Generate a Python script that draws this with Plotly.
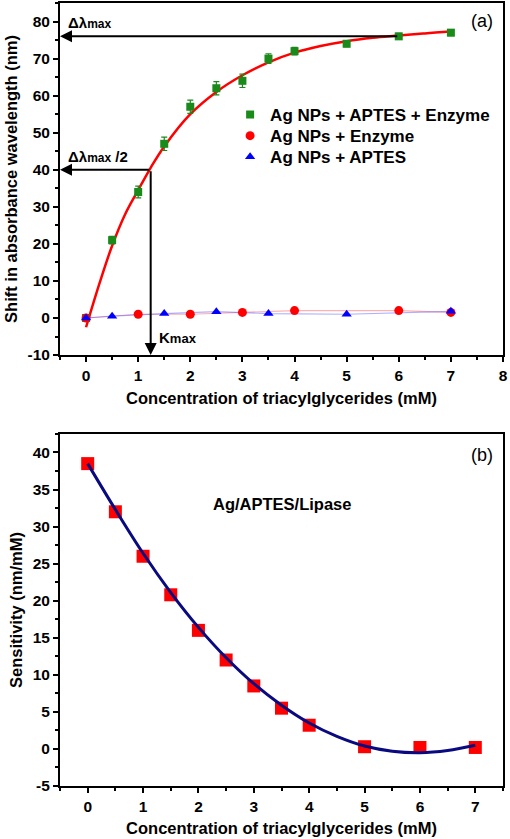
import plotly.graph_objects as go

# ---- data panel (a)
conc_a = [0, 0.5, 1, 1.5, 2, 2.5, 3, 3.5, 4, 5, 6, 7]
shift_enzyme_aptes = [0, 21, 34, 47, 57, 62, 64, 70, 72, 74, 76, 77]
err_enzyme_aptes = [0.8, 1.0, 1.6, 1.8, 1.8, 1.8, 1.8, 1.3, 1.0, 0.8, 0.8, 0.8]

conc_enzyme = [0, 1, 2, 3, 4, 6, 7]
shift_enzyme = [0, 1, 1, 1.5, 2, 2, 1.5]

conc_aptes = [0, 0.5, 1.5, 2.5, 3.5, 5, 7]
shift_aptes = [0, 0.5, 1.2, 1.7, 1.2, 1.0, 1.8]

fit_x_a = [0, 0.25, 0.5, 0.75, 1, 1.25, 1.5, 2, 2.5, 3, 3.5, 4, 4.5, 5, 5.5, 6, 6.5, 7]
fit_y_a = [-2.5, 9, 19.5, 28, 34.5, 40.8, 46.3, 55, 61, 65.5, 69, 71.6, 73.4, 74.7, 75.6, 76.2, 76.8, 77.3]

delta_max = 76
delta_half = 40
k_max = 1.24
delta_max_x = 6

y_ticks_a = [-10, 0, 10, 20, 30, 40, 50, 60, 70, 80]
y_ticktext_a = ["-10", "0", "10", "20", "30", "40", "50", "60", "70", "80"]

# ---- data panel (b)
conc_b = [0, 0.5, 1, 1.5, 2, 2.5, 3, 3.5, 4, 5, 6, 7]
sensitivity = [38.5, 32, 26, 20.8, 16, 12, 8.5, 5.5, 3.2, 0.3, 0.2, 0.2]
fit_x_b = [0, 0.5, 1, 1.5, 2, 2.5, 3, 3.5, 4, 4.5, 5, 5.5, 6, 6.5, 7]
fit_y_b = [38.5, 32.3, 26.4, 21.1, 16.4, 12.3, 8.8, 5.9, 3.5, 1.7, 0.4, -0.3, -0.5, -0.2, 0.5]

y_ticks_b = [-5, 0, 5, 10, 15, 20, 25, 30, 35, 40]
y_ticktext_b = ["-5", "0", "5", "10", "15", "20", "25", "30", "35", "40"]

FONT = "Arial, Liberation Sans, sans-serif"
TITLE_FONT = dict(family=FONT, size=16.5, color="black", weight="bold")
LEGEND_FONT = dict(family=FONT, size=17, color="black", weight="bold")

fig = go.Figure()

# panel (a)
fig.add_trace(go.Scatter(x=fit_x_a, y=fit_y_a, mode="lines", line=dict(color="#ff0000", width=2.5, shape="spline"),
                         showlegend=False, xaxis="x", yaxis="y"))
fig.add_trace(go.Scatter(x=conc_enzyme, y=shift_enzyme, mode="lines", line=dict(color="rgba(255,80,80,0.45)", width=1.2),
                         showlegend=False, xaxis="x", yaxis="y"))
fig.add_trace(go.Scatter(x=conc_aptes, y=shift_aptes, mode="lines", line=dict(color="rgba(80,80,255,0.45)", width=1.2),
                         showlegend=False, xaxis="x", yaxis="y"))
fig.add_trace(go.Scatter(x=conc_a, y=shift_enzyme_aptes, mode="markers", name="Ag NPs + APTES + Enzyme",
                         marker=dict(symbol="square", color="#1a8a1a", size=8),
                         error_y=dict(type="data", array=err_enzyme_aptes, color="#1a8a1a", thickness=1.2, width=3),
                         xaxis="x", yaxis="y", legend="legend"))
fig.add_trace(go.Scatter(x=conc_enzyme, y=shift_enzyme, mode="markers", name="Ag NPs + Enzyme",
                         marker=dict(symbol="circle", color="#ff0000", size=9), xaxis="x", yaxis="y",
                         legend="legend2"))
fig.add_trace(go.Scatter(x=conc_aptes, y=shift_aptes, mode="markers", name="Ag NPs + APTES",
                         marker=dict(symbol="triangle-up", color="#0000ff", size=9), xaxis="x", yaxis="y",
                         legend="legend3"))

# panel (b)
fig.add_trace(go.Scatter(x=conc_b, y=sensitivity, mode="markers", showlegend=False,
                         marker=dict(symbol="square", color="#ff0000", size=13), xaxis="x2", yaxis="y2"))
fig.add_trace(go.Scatter(x=fit_x_b, y=fit_y_b, mode="lines", line=dict(color="#0a0a80", width=3, shape="spline"),
                         showlegend=False, xaxis="x2", yaxis="y2"))

axis_common = dict(showline=True, linecolor="black", linewidth=2, mirror=True, ticks="outside",
                   ticklen=5, tickwidth=1.5, tickcolor="black", showgrid=False, zeroline=False,
                   automargin=False,
                   tickfont=dict(family=FONT, size=15.5, color="black", weight="bold"))

leg_common = dict(x=0.384, xanchor="left", yanchor="top", bgcolor="rgba(0,0,0,0)",
                  font=LEGEND_FONT, itemwidth=30)

fig.update_layout(
    template="none",
    width=510, height=839,
    margin=dict(l=60, r=7, t=3, b=53, autoexpand=False),
    plot_bgcolor="white", paper_bgcolor="white",
    font=dict(family=FONT, color="black"),
    xaxis=dict(domain=[0, 1], anchor="y", range=[-0.5, 8], dtick=1, tick0=0,
               minor=dict(ticks="outside", dtick=0.5, ticklen=3, tickcolor="black"),
               title=dict(text="Concentration of triacylglycerides (mM)", font=TITLE_FONT, standoff=10),
               **axis_common),
    yaxis=dict(domain=[0.5504, 1], anchor="x", range=[-10, 85], tickvals=y_ticks_a, ticktext=y_ticktext_a,
               minor=dict(ticks="outside", dtick=5, tick0=0, ticklen=3, tickcolor="black"),
               title=dict(text="Shift in absorbance wavelength (nm)", font=TITLE_FONT, standoff=6),
               **axis_common),
    xaxis2=dict(domain=[0, 1], anchor="y2", range=[-0.5, 7.5], dtick=1, tick0=0,
                minor=dict(ticks="outside", dtick=0.5, ticklen=3, tickcolor="black"),
                title=dict(text="Concentration of triacylglycerides (mM)", font=TITLE_FONT, standoff=9),
                **axis_common),
    yaxis2=dict(domain=[0, 0.4496], anchor="x2", range=[-5, 42.5], tickvals=y_ticks_b, ticktext=y_ticktext_b,
                minor=dict(ticks="outside", dtick=2.5, tick0=0, ticklen=3, tickcolor="black"),
                title=dict(text="Sensitivity (nm/mM)", font=TITLE_FONT, standoff=6),
                **axis_common),
    legend=dict(y=0.880, **leg_common),
    legend2=dict(y=0.853, **leg_common),
    legend3=dict(y=0.826, **leg_common),
)

arrow = dict(showarrow=True, arrowhead=2, arrowsize=1.2, arrowwidth=2, arrowcolor="black",
             xref="x", yref="y", axref="x", ayref="y", text="")
fig.add_annotation(x=-0.5, y=delta_max, ax=delta_max_x, ay=delta_max, **arrow)
fig.add_annotation(x=-0.5, y=delta_half, ax=k_max, ay=delta_half, **arrow)
fig.add_annotation(x=k_max, y=-10, ax=k_max, ay=delta_half, **arrow)

lbl = dict(showarrow=False, xref="x", yref="y", xanchor="left", yanchor="middle",
           font=dict(family=FONT, size=15, color="black"))
fig.add_annotation(x=-0.38, y=delta_max + 3.8, text="<b>Δλ<span style='font-size:12px'>max</span></b>", **lbl)
fig.add_annotation(x=-0.38, y=delta_half + 3.5, text="<b>Δλ<span style='font-size:12px'>max</span> /2</b>", **lbl)
fig.add_annotation(x=k_max + 0.12, y=-5.2, text="<b>K<span style='font-size:13px'>max</span></b>", **lbl)

fig.add_annotation(x=(482 - 60) / 443, y=(786 - 21) / 783, xref="paper", yref="paper", text="(a)", showarrow=False,
                   xanchor="center", yanchor="middle", font=dict(family=FONT, size=18, color="black"))
fig.add_annotation(x=(482 - 60) / 443, y=(786 - 455) / 783, xref="paper", yref="paper", text="(b)", showarrow=False,
                   xanchor="center", yanchor="middle", font=dict(family=FONT, size=18, color="black"))
fig.add_annotation(x=3.5, y=33, xref="x2", yref="y2", text="<b>Ag/APTES/Lipase</b>", showarrow=False,
                   font=dict(family=FONT, size=16.5, color="black"))

fig.write_html("out.html", config={"displayModeBar": False},
               post_script="document.body.style.margin='0';document.body.style.overflow='hidden';")
